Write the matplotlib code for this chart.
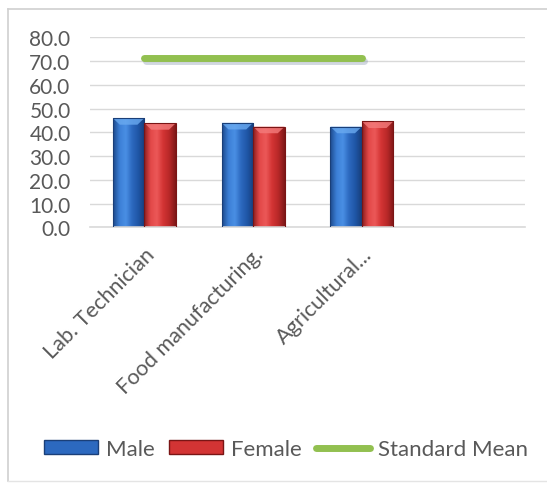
import numpy as np
import matplotlib.pyplot as plt
from matplotlib.colors import LinearSegmentedColormap
from matplotlib.patches import Polygon
from matplotlib.lines import Line2D
import matplotlib.patheffects as pe

plt.rcParams['font.family'] = ['Lato', 'DejaVu Sans']

# scores per course
categories = ['Lab. Technician', 'Food manufacturing.', 'Agricultural...']
male = [46.0, 44.0, 42.4]
female = [43.9, 42.4, 44.6]
standard_mean = [71.2, 71.2, 71.2]

yticks = [0, 10, 20, 30, 40, 50, 60, 70, 80]
n_slots = 4  # the axis keeps room for one empty category on the right

text_gray = '#595959'
grid_gray = '#D9D9D9'

fig = plt.figure(figsize=(5.47, 4.85), dpi=100)
ax = fig.add_axes([90 / 547, 1 - 228.3 / 485, 435 / 547, 190 / 485])

x = np.arange(len(categories))
w = 0.29

# cylinder-like shading: dark edges, bright streak left of centre
blue_cmap = LinearSegmentedColormap.from_list(
    'blue_bar', ['#1D4A8C', '#3C7FD6', '#4A8FE4', '#2C69BF', '#1F56A6', '#173E7A'])
red_cmap = LinearSegmentedColormap.from_list(
    'red_bar', ['#8E1E1E', '#E24848', '#EC5858', '#D33434', '#B82828', '#7E1818'])
grad = np.linspace(0, 1, 64).reshape(1, -1)


def shaded_bars(xpos, values, cmap, cap_color, edge_color):
    bars = ax.bar(xpos, values, width=w, color='none', edgecolor=edge_color,
                  linewidth=0.8, zorder=3)
    for b in bars:
        x0, x1 = b.get_x(), b.get_x() + b.get_width()
        h = b.get_height()
        im = ax.imshow(grad, cmap=cmap, extent=[x0, x1, 0, h], aspect='auto',
                       zorder=2, interpolation='bicubic')
        im.set_clip_path(b)
        # bevelled top face
        inset = b.get_width() * 0.22
        cap = Polygon([[x0, h], [x1, h], [x1 - inset, h - 2.8], [x0 + inset, h - 2.8]],
                      closed=True, facecolor=cap_color, edgecolor='none',
                      alpha=0.8, zorder=2.5)
        ax.add_patch(cap)
    return bars


shaded_bars(x - w / 2, male, blue_cmap, '#6AAAF0', '#1A3F78')
shaded_bars(x + w / 2, female, red_cmap, '#F47C7C', '#7A1515')

ax.plot(x, standard_mean, color='#92C050', linewidth=5.0, solid_capstyle='round',
        zorder=4,
        path_effects=[pe.SimpleLineShadow(offset=(1.5, -2), shadow_color='#8090A8', alpha=0.35),
                      pe.Normal()])

ax.set_xlim(-0.5, n_slots - 0.5)
ax.set_ylim(0, 80)
ax.set_yticks(yticks)
ax.set_yticklabels([f'{v:.1f}' for v in yticks])
ax.yaxis.grid(True, color=grid_gray, linewidth=1.0)
ax.set_axisbelow(True)
ax.tick_params(axis='y', length=0, pad=14, labelsize=15, labelcolor=text_gray)

ax.set_xticks(x)
ax.set_xticklabels(categories, rotation=45, ha='right', va='top',
                   rotation_mode='anchor', fontsize=15.6, color=text_gray)
ax.tick_params(axis='x', length=0, pad=12)

for side in ['left', 'right', 'top']:
    ax.spines[side].set_visible(False)
ax.spines['bottom'].set_color(grid_gray)
ax.spines['bottom'].set_linewidth(1.2)

# legend
handles = [
    plt.Rectangle((0, 0), 1, 1, facecolor='#2C69BF', edgecolor='#1A3F78'),
    plt.Rectangle((0, 0), 1, 1, facecolor='#D33434', edgecolor='#7A1515'),
    Line2D([0], [0], color='#92C050', linewidth=5.0, solid_capstyle='round'),
]
fig.legend(handles, ['Male', 'Female', 'Standard Mean'], loc='center',
           bbox_to_anchor=(286 / 547, 1 - 450 / 485), ncol=3, frameon=False,
           fontsize=16, labelcolor=text_gray, handlelength=2.45, handleheight=0.55,
           handletextpad=0.36, columnspacing=0.63)

# chart area frame
fig.add_artist(Line2D([8 / 547, 8 / 547], [1 - 10 / 485, 1 - 482 / 485],
                      color='#D0D0D0', linewidth=1.2))
fig.add_artist(Line2D([8 / 547, 1.0], [1 - 10 / 485, 1 - 10 / 485],
                      color='#D0D0D0', linewidth=1.2))
fig.add_artist(Line2D([8 / 547, 1.0], [1 - 482 / 485, 1 - 482 / 485],
                      color='#E4E4E4', linewidth=1.0))

fig.savefig('out.png', dpi=100)
